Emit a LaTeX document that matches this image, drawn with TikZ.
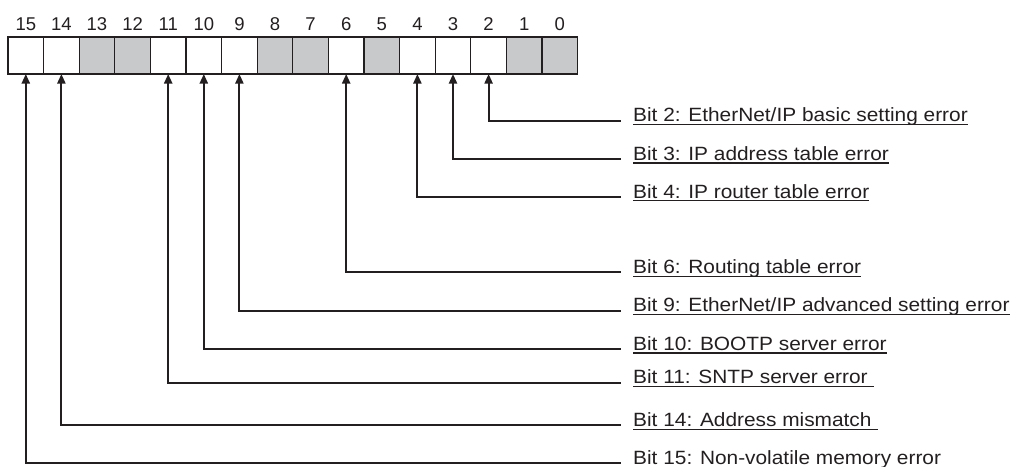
\documentclass[tikz,border=0pt]{standalone}
\usepackage{fontspec}
\setmainfont{Liberation Sans}
\newfontfamily\lblfont{Liberation Sans}[FakeStretch=1.086]
\usetikzlibrary{arrows.meta}
\definecolor{ink}{RGB}{35,31,32}
\definecolor{boxgray}{RGB}{200,201,203}
\tikzset{
 bitbox/.style={draw=ink, line width=1.3pt, minimum width=35.6pt, minimum height=37pt, inner sep=0pt, outer sep=0pt, fill=white},
 bitgray/.style={bitbox, fill=boxgray},
 bitnum/.style={font=\fontsize{18.5}{18.5}\selectfont, text=ink, anchor=base, inner sep=0pt},
 conn/.style={draw=ink, line width=2pt, {Triangle[width=8pt,length=9.5pt]}-},
 lbl/.style={font=\lblfont\fontsize{19.2}{19.2}\selectfont, text=ink, anchor=base west, inner sep=0pt},
 uline/.style={draw=ink, line width=1.3pt}
}
\newcommand\bitlabel[3]{%
  \coordinate (e#1) at (621,#2);
  \node[lbl] (l#1) at (633,{#2+1.2}) {#3};
  \draw[conn] (b#1.south) |- (e#1);
  \draw[uline] ([yshift=-2.8pt]l#1.base west) -- ([yshift=-2.8pt]l#1.base east);
}
\begin{document}
\begin{tikzpicture}[x=1pt,y=-1pt]
\useasboundingbox (0,0) rectangle (1012,466);
\clip (0,0) rectangle (1012,466);
\foreach \b/\s in {15/bitbox,14/bitbox,13/bitgray,12/bitgray,11/bitbox,10/bitbox,9/bitbox,8/bitgray,7/bitgray,6/bitbox,5/bitgray,4/bitbox,3/bitbox,2/bitbox,1/bitgray,0/bitgray}{
  \node[\s] (b\b) at ({8+(15.5-\b)*35.6},55.5) {};
  \node[bitnum] (n\b) at ({8+(15.5-\b)*35.6},30.7) {\b};
}
\bitlabel{2}{120.7}{Bit 2: EtherNet/IP basic setting error}
\bitlabel{3}{159}{Bit 3: IP address table error}
\bitlabel{4}{196.8}{Bit 4: IP router table error}
\bitlabel{6}{272.3}{Bit 6: Routing table error}
\bitlabel{9}{310.7}{Bit 9: EtherNet/IP advanced setting error}
\bitlabel{10}{349}{Bit 10: BOOTP server error}
\bitlabel{11}{382.7}{Bit 11: SNTP server error\kern6pt}
\bitlabel{14}{425.3}{Bit 14: Address mismatch\kern6pt}
\bitlabel{15}{463.3}{Bit 15: Non-volatile memory error}
\end{tikzpicture}
\end{document}
